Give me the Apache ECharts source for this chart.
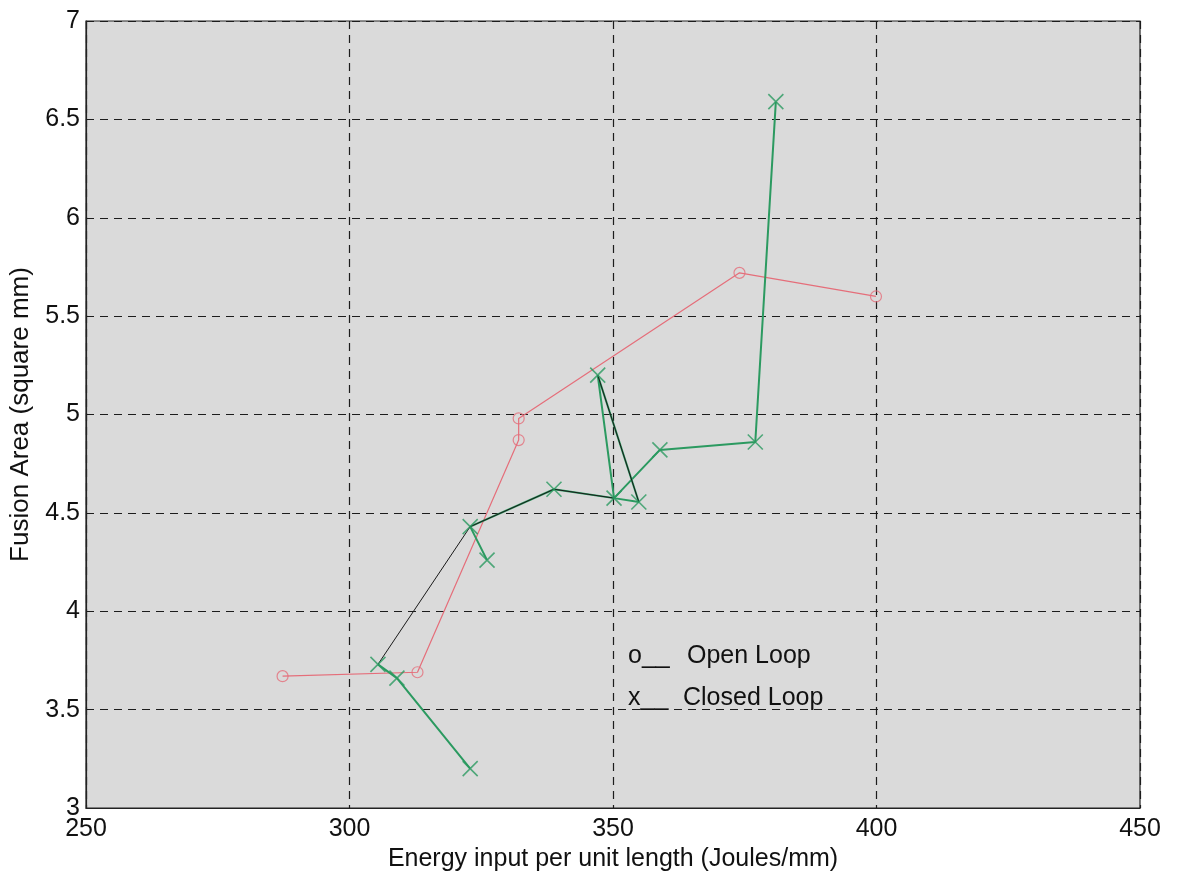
<!DOCTYPE html>
<html>
<head>
<meta charset="utf-8">
<script src="https://cdn.jsdelivr.net/npm/echarts@6/dist/echarts.min.js"></script>
<style>
  html, body { margin: 0; padding: 0; background: #ffffff; }
  #chart { width: 1179px; height: 883px; }
</style>
</head>
<body>
<div id="chart"></div>
<script>
// Open loop runs: energy input (J/mm) vs fusion area (mm^2)
const openLoopEnergy = [287.3, 312.9, 332.1, 332.1, 374.0, 399.9];
const openLoopArea   = [3.67, 3.69, 4.87, 4.98, 5.72, 5.60];

// Closed loop runs
const closedLoopEnergy = [322.9, 309.0, 305.4, 322.9, 326.1, 338.8, 350.2, 347.1, 354.9, 358.9, 377.0, 380.9];
const closedLoopArea   = [3.20, 3.66, 3.73, 4.43, 4.26, 4.62, 4.575, 5.20, 4.555, 4.82, 4.86, 6.59];

// Order in which the closed loop points are joined (green traces)
const closedGreenPaths = [
  [0, 1, 2],
  [4, 3, 5, 6, 7, 8, 6, 9, 10, 11]
];
// Thin black traces through the closed loop points
const closedBlackPaths = [
  [2, 3, 5, 6],
  [7, 8]
];

// Axis ranges
const xMin = 250, xMax = 450, xStep = 50;
const yMin = 3, yMax = 7, yStep = 0.5;

const xTitle = 'Energy input per unit length (Joules/mm)';
const yTitle = 'Fusion Area (square mm)';
const legendRows = [
  { mark: 'o__', label: 'Open Loop' },
  { mark: 'x__', label: 'Closed Loop' }
];

const FONT = '"Liberation Sans", Arial, sans-serif';
const RED = '#e56e7a';
const GREEN = '#2b9a60';

const pts = (path) => path.map(i => [closedLoopEnergy[i], closedLoopArea[i]]);

const series = [];

closedGreenPaths.forEach(p => series.push({
  type: 'line', data: pts(p), showSymbol: false, silent: true, z: 3,
  lineStyle: { color: GREEN, width: 2 }
}));
closedBlackPaths.forEach(p => series.push({
  type: 'line', data: pts(p), showSymbol: false, silent: true, z: 4,
  lineStyle: { color: '#1a1a1a', width: 1 }
}));
series.push({
  type: 'line',
  data: openLoopEnergy.map((x, i) => [x, openLoopArea[i]]),
  showSymbol: false, silent: true, z: 2,
  lineStyle: { color: RED, width: 1.2 }
});
series.push({
  type: 'scatter', z: 5,
  data: openLoopEnergy.map((x, i) => [x, openLoopArea[i]]),
  symbol: 'circle', symbolSize: 11,
  itemStyle: { color: 'rgba(0,0,0,0)', borderColor: RED, borderWidth: 1.2 }
});
series.push({
  type: 'scatter', z: 6,
  data: closedLoopEnergy.map((x, i) => [x, closedLoopArea[i]]),
  symbol: 'path://M0 0L10 10M10 0L0 10', symbolSize: 15,
  itemStyle: { color: 'rgba(0,0,0,0)', borderColor: GREEN, borderWidth: 1.6 }
});

const splitStyle = { show: true, lineStyle: { color: '#1c1c1c', type: [8, 6], width: 1.2 } };

const chart = echarts.init(document.getElementById('chart'), null, { renderer: 'canvas' });
chart.setOption({
  backgroundColor: '#ffffff',
  animation: false,
  grid: {
    left: 86, right: 39, top: 21, bottom: 75,
    show: true, backgroundColor: '#dadada', borderColor: '#222222', borderWidth: 1.2
  },
  xAxis: {
    type: 'value', min: xMin, max: xMax, interval: xStep,
    name: xTitle, nameLocation: 'middle', nameGap: 28,
    nameTextStyle: { fontFamily: FONT, fontSize: 25, color: '#111' },
    axisLine: { show: true, lineStyle: { color: '#222', width: 1.2 } },
    axisTick: { show: false },
    axisLabel: { fontFamily: FONT, fontSize: 25, color: '#111', margin: 9 },
    splitLine: splitStyle
  },
  yAxis: {
    type: 'value', min: yMin, max: yMax, interval: yStep,
    name: yTitle, nameLocation: 'middle', nameGap: 52, nameRotate: 90,
    nameTextStyle: { fontFamily: FONT, fontSize: 26, color: '#111' },
    axisLine: { show: true, lineStyle: { color: '#222', width: 1.2 } },
    axisTick: { show: false },
    axisLabel: { fontFamily: FONT, fontSize: 25, color: '#111', margin: 6 },
    splitLine: splitStyle
  },
  graphic: legendRows.flatMap((row, k) => [
    { type: 'text', left: 628, top: 644 + k * 42, z: 10,
      style: { text: row.mark, font: '25px ' + FONT, fill: '#111' } },
    { type: 'text', left: 687 - k * 4, top: 644 + k * 42, z: 10,
      style: { text: row.label, font: '25px ' + FONT, fill: '#111' } }
  ]),
  series: series
});
</script>
</body>
</html>
